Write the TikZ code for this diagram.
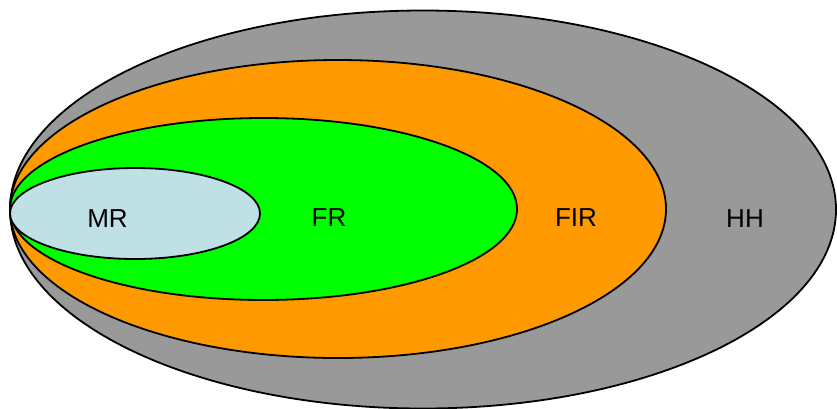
\documentclass[tikz,border=0pt]{standalone}
\usepackage{fontspec}
\setmainfont{Liberation Sans}
\definecolor{hhgray}{RGB}{153,153,153}
\definecolor{firorange}{RGB}{255,153,0}
\definecolor{frgreen}{RGB}{0,255,0}
\definecolor{mrblue}{RGB}{191,224,228}
\begin{document}
\begin{tikzpicture}[x=1pt,y=-1pt,
  setshape/.style={draw=black, line width=1.8pt},
  setlabel/.style={font=\fontsize{26}{30}\selectfont, text=black, inner sep=0pt, anchor=center}]
\useasboundingbox (0,0) rectangle (837,408);
\path[setshape, fill=hhgray] (423,209.5) ellipse [x radius=413pt, y radius=199pt];
\path[setshape, fill=firorange] (338,209) ellipse [x radius=328pt, y radius=149pt];
\path[setshape, fill=frgreen] (263.5,209) ellipse [x radius=253.5pt, y radius=91pt];
\path[setshape, fill=mrblue] (135,213.5) ellipse [x radius=125pt, y radius=45.5pt];
\node[setlabel] (mr) at (107.5,218.5) {MR};
\node[setlabel] (fr) at (329,218) {FR};
\node[setlabel] (fir) at (576,218) {FIR};
\node[setlabel] (hh) at (745,219) {HH};
\end{tikzpicture}
\end{document}
